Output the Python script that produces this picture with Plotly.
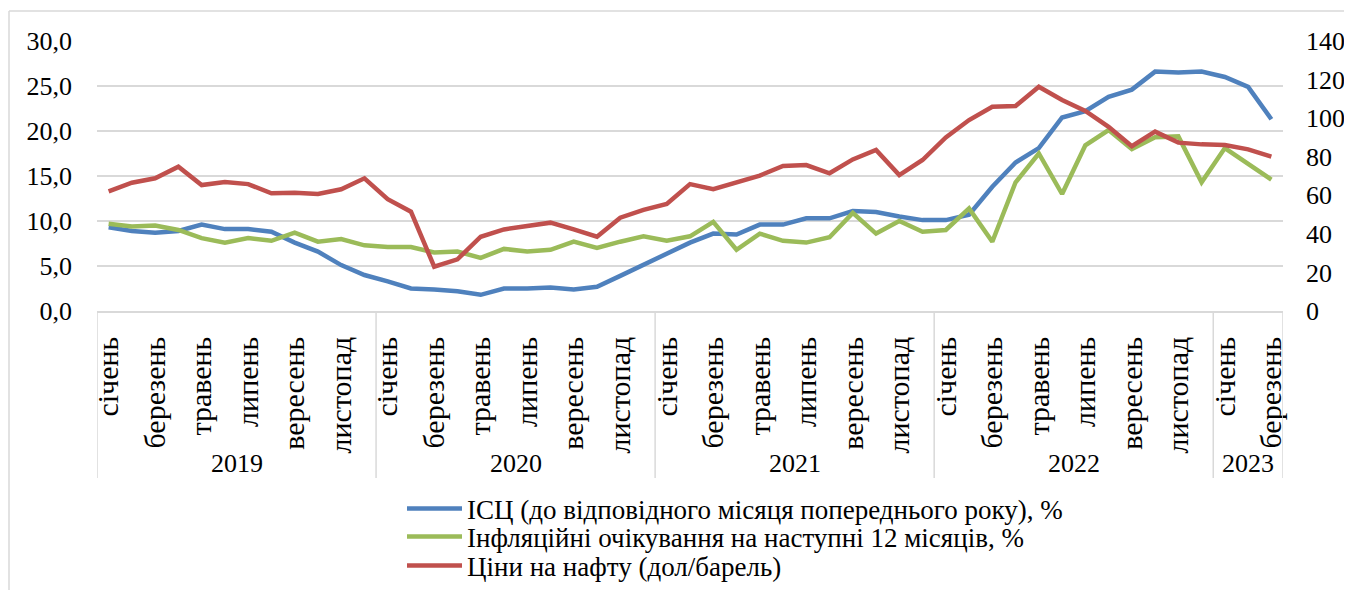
import plotly.graph_objects as go

# monthly data, Jan 2019 .. Mar 2023
years = ["2019", "2020", "2021", "2022", "2023"]
months_per_year = [12, 12, 12, 12, 3]
month_names = ["січень", "лютий", "березень", "квітень", "травень", "червень",
               "липень", "серпень", "вересень", "жовтень", "листопад", "грудень"]

cpi = [9.3, 8.9, 8.7, 8.9, 9.6, 9.1, 9.1, 8.8, 7.6, 6.6, 5.1, 4.0,
       3.3, 2.5, 2.4, 2.2, 1.8, 2.5, 2.5, 2.6, 2.4, 2.7, 3.9, 5.1,
       6.3, 7.6, 8.6, 8.5, 9.6, 9.6, 10.3, 10.3, 11.1, 11.0, 10.5, 10.1,
       10.1, 10.7, 13.8, 16.5, 18.1, 21.5, 22.2, 23.8, 24.6, 26.6, 26.5, 26.6,
       26.0, 24.9, 21.3]

expectations = [9.7, 9.4, 9.5, 9.0, 8.1, 7.6, 8.1, 7.8, 8.7, 7.7, 8.0, 7.3,
                7.1, 7.1, 6.5, 6.6, 5.9, 6.9, 6.6, 6.8, 7.7, 7.0, 7.7, 8.3,
                7.8, 8.3, 9.9, 6.8, 8.6, 7.8, 7.6, 8.2, 10.9, 8.6, 10.0, 8.8,
                9.0, 11.4, 7.7, 14.3, 17.5, 13.0, 18.4, 20.1, 18.0, 19.3, 19.4, 14.3,
                18.1, 16.4, 14.6]

oil = [62.0, 66.5, 68.8, 74.8, 65.3, 66.9, 65.8, 61.0, 61.3, 60.7, 63.1, 68.8,
       58.0, 51.5, 23.0, 26.8, 38.5, 42.3, 44.1, 45.8, 42.3, 38.5, 48.4, 52.4,
       55.5, 65.8, 63.2, 67.0, 70.2, 75.2, 75.7, 71.4, 78.6, 83.5, 70.5, 78.3,
       90.0, 99.0, 105.9, 106.3, 116.3, 109.4, 103.7, 95.5, 85.5, 93.0, 87.3, 86.4,
       86.1, 83.8, 80.0]

names = ["ІСЦ (до відповідного місяця попереднього року), %",
         "Інфляційні очікування на наступні 12 місяців, %",
         "Ціни на нафту (дол/барель)"]

FONT = "Liberation Serif, Times New Roman, serif"
FS = 26
GRID = "#d9d9d9"

# the page body adds an 8px offset, so positions below are screen px - 8
OFF = 8
W, H = 1352 - OFF, 590 - OFF
L, T = 97 - OFF, 41 - OFF
R = W - (1283 - OFF)
B = H - (311 - OFF)
PW, PH = W - L - R, H - T - B


def px_x(px):
    return (px - OFF - L) / PW


def px_y(py):
    return (H - B - (py - OFF)) / PH


month_labels = []
for n in months_per_year:
    month_labels += month_names[:n]
x = list(range(len(month_labels)))
tickvals = [i for i in x if i % 2 == 0]
ticktext = [month_labels[i] for i in tickvals]

fig = go.Figure()
fig.add_trace(go.Scatter(x=x, y=cpi, name=names[0], mode="lines", showlegend=True,
                         line=dict(color="#4f81bd", width=4.5), legend="legend"))
fig.add_trace(go.Scatter(x=x, y=expectations, name=names[1], mode="lines", showlegend=True,
                         line=dict(color="#9bbb59", width=4.5), legend="legend2"))
fig.add_trace(go.Scatter(x=x, y=oil, name=names[2], mode="lines", yaxis="y2", showlegend=True,
                         line=dict(color="#c0504d", width=4.5), legend="legend3"))

# one legend per row so the rows sit as tight as in the original
legend_style = dict(bgcolor="rgba(0,0,0,0)", xanchor="left", yanchor="middle",
                    xref="container", yref="container", x=(402 - OFF) / W, itemwidth=55,
                    font=dict(family=FONT, size=27, color="#000000"))
fig.update_layout(
    showlegend=True,
    legend=dict(y=1 - (509 - OFF) / H, **legend_style),
    legend2=dict(y=1 - (537 - OFF) / H, **legend_style),
    legend3=dict(y=1 - (566 - OFF) / H, **legend_style),
)

# year labels and separators under the month labels
starts = [0]
for n in months_per_year:
    starts.append(starts[-1] + n)
for k, yr in enumerate(years):
    fig.add_annotation(x=(starts[k] + starts[k + 1] - 1) / 2, y=px_y(463),
                       xref="x", yref="paper", yanchor="middle", text=yr, showarrow=False,
                       font=dict(family=FONT, size=FS, color="#000000"))
for s in starts:
    fig.add_shape(type="line", xref="x", yref="paper", x0=s - 0.5, x1=s - 0.5,
                  y0=0, y1=px_y(478), line=dict(color=GRID, width=1.5))

# outer chart frame
fig.add_shape(type="line", xref="paper", yref="paper", x0=px_x(9), x1=px_x(1360),
              y0=px_y(11), y1=px_y(11), line=dict(color=GRID, width=1.5))
fig.add_shape(type="line", xref="paper", yref="paper", x0=px_x(9), x1=px_x(9),
              y0=px_y(11), y1=px_y(600), line=dict(color=GRID, width=1.5))

fig.update_layout(
    width=W, height=H,
    margin=dict(l=L, r=R, t=T, b=B, autoexpand=False),
    paper_bgcolor="white", plot_bgcolor="white",
    separators=", ",
    font=dict(family=FONT, size=FS, color="#000000"),
    xaxis=dict(range=[-0.5, len(x) - 0.5], tickmode="array", tickvals=tickvals,
               ticktext=ticktext, tickangle=-90, showgrid=False, zeroline=False,
               showline=True, linecolor=GRID, linewidth=1.5, ticks="",
               ticklabelstandoff=12, automargin=False,
               tickfont=dict(family=FONT, size=30)),
    yaxis=dict(range=[0, 30], dtick=5, tickformat=".1f", showgrid=True,
               gridcolor=GRID, gridwidth=1.5, zeroline=False, showline=False,
               ticks="", ticklabelstandoff=24, automargin=False,
               tickfont=dict(family=FONT, size=26)),
    yaxis2=dict(range=[0, 140], dtick=20, overlaying="y", side="right",
                showgrid=False, zeroline=False, showline=False, ticks="",
                ticklabelstandoff=22, automargin=False,
                tickfont=dict(family=FONT, size=26)),
)

fig.write_html("out.html")
